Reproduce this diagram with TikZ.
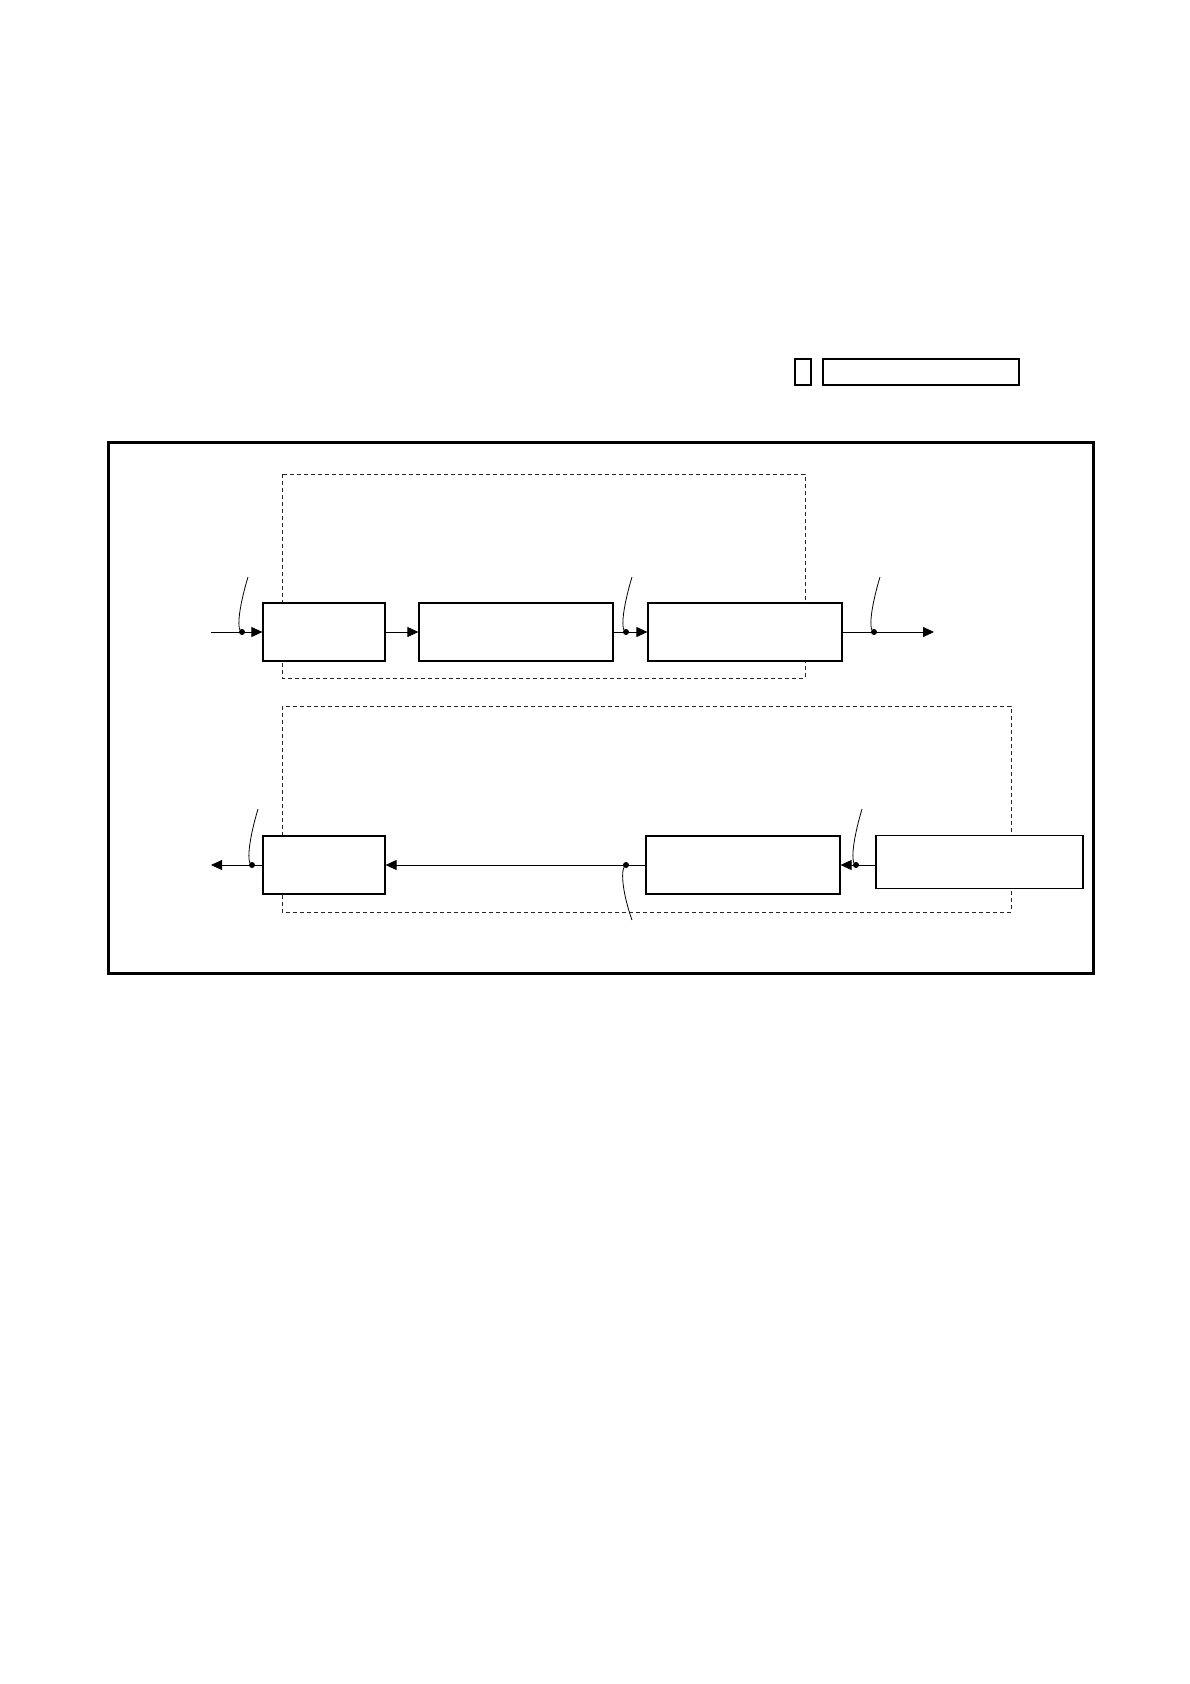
\documentclass[tikz,border=0pt]{standalone}
\usetikzlibrary{arrows.meta}
\begin{document}
\begin{tikzpicture}[x=1pt,y=-1pt,
  blk/.style={draw=black,fill=white,line width=1.2pt,inner sep=0pt,minimum height=58pt},
  topbox/.style={draw=black,fill=white,line width=1.3pt,inner sep=0pt,minimum height=26pt},
  frame/.style={draw=black!85,line width=0.9pt,dash pattern=on 4pt off 3pt},
  flow/.style={line width=0.9pt,-{Triangle[length=11pt,width=10pt]}},
  leader/.style={line width=0.8pt},
  junct/.style={fill=black,draw=none}]
\useasboundingbox (0,0) rectangle (1190,1684);
\fill[white] (0,0) rectangle (1190,1684);

% header boxes
\node[topbox,minimum width=16pt] (hs) at (803,372) {};
\node[topbox,minimum width=196pt] (hl) at (921,372) {};

% outer frame
\draw[line width=3pt] (108,442) rectangle (1093,973);

% dashed group frames
\draw[frame] (282,474) rectangle (805,678);
\draw[frame] (282,706) rectangle (1011,912);

% row 1 blocks
\node[blk,minimum width=122pt] (A1) at (324,632) {};
\node[blk,minimum width=194pt] (A2) at (516,632) {};
\node[blk,minimum width=194pt] (A3) at (745,632) {};

% row 2 blocks
\node[blk,minimum width=122pt] (B1) at (324,865) {};
\node[blk,minimum width=194pt] (B2) at (743,865) {};
\node[blk,minimum width=207pt,minimum height=53pt] (B3) at (979.5,862) {};

% coordinates
\coordinate (in1) at (211,632);
\coordinate (j1) at (242,632);
\coordinate (t1) at (248,577);
\coordinate (j2) at (626,632);
\coordinate (t2) at (632,577);
\coordinate (j3) at (874,632);
\coordinate (t3) at (880,577);
\coordinate (out1) at (934,632);

\coordinate (out2) at (211,865);
\coordinate (k1) at (252,865);
\coordinate (u1) at (258,809);
\coordinate (k2) at (626,865);
\coordinate (u2) at (632,920);
\coordinate (k3) at (856,865);
\coordinate (u3) at (862,809);
\coordinate (b3in) at (B3.west |- k3);

% row 1 connectors
\draw[flow] (in1) -- (A1.west);
\draw[flow] (A1.east) -- (A2.west);
\draw[flow] (A2.east) -- (A3.west);
\draw[flow] (A3.east) -- (out1);

% row 2 connectors
\draw[flow] (B1.west) -- (out2);
\draw[flow] (B2.west) -- (B1.east);
\draw[flow] (b3in) -- (B2.east);

% junction dots
\foreach \p in {j1,j2,j3,k1,k2,k3} \fill[junct] (\p) circle (3pt);

% leader lines
\draw[leader] (t1) .. controls (241,600) and (235,630) .. (j1);
\draw[leader] (t2) .. controls (625,600) and (619,630) .. (j2);
\draw[leader] (t3) .. controls (873,600) and (867,630) .. (j3);
\draw[leader] (u1) .. controls (251,832) and (245,863) .. (k1);
\draw[leader] (u3) .. controls (855,832) and (849,863) .. (k3);
\draw[leader] (k2) .. controls (620,867) and (622,892) .. (u2);
\end{tikzpicture}
\end{document}
